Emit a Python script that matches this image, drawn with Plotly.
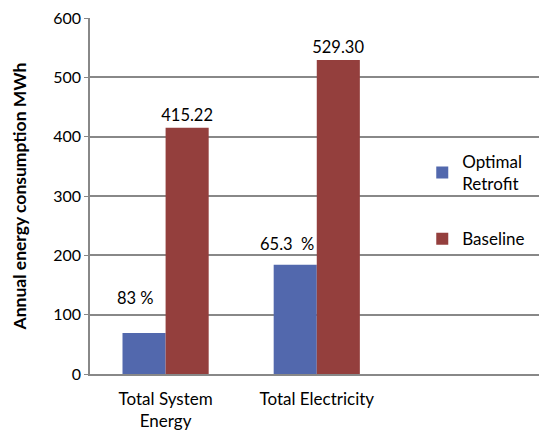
import plotly.graph_objects as go

categories = ["Total System<br>Energy", "Total Electricity"]
optimal = [69, 184]
baseline = [415.22, 529.30]
baseline_labels = ["415.22", "529.30"]
pct_labels = ["83 %", "65.3  %"]
pct_label_y = [128, 219]
y_ticks = [0, 100, 200, 300, 400, 500, 600]

x = list(range(len(categories)))
FONT = "Lato, Liberation Sans, sans-serif"

fig = go.Figure()
fig.add_trace(go.Bar(x=x, y=optimal, name="Optimal<br>Retrofit", legendgroup="a",
                     marker=dict(color="#5268AD", line=dict(width=0))))
fig.add_trace(go.Bar(x=x, y=baseline, name="Baseline", legendgroup="b",
                     marker=dict(color="#943F3D", line=dict(width=0)),
                     text=baseline_labels, textposition="outside", constraintext="none",
                     textfont=dict(size=16.5, color="#000000"), cliponaxis=False))

for i, (lab, yy) in enumerate(zip(pct_labels, pct_label_y)):
    fig.add_annotation(x=i - 0.2, y=yy, text=lab, showarrow=False,
                       font=dict(size=16.5, color="#000000"))

fig.update_layout(
    width=539, height=431,
    margin=dict(l=90, r=0, t=18, b=57),
    paper_bgcolor="white", plot_bgcolor="white",
    font=dict(family=FONT, size=17, color="#000000"),
    barmode="group", bargap=0.43, bargroupgap=0,
    showlegend=True,
    legend=dict(x=0.74, y=0.646, xanchor="left", yanchor="top",
                font=dict(size=17), tracegroupgap=30,
                bgcolor="rgba(0,0,0,0)", itemwidth=30),
    xaxis=dict(range=[-0.5, 2.47], tickmode="array", tickvals=x, ticktext=categories,
               showgrid=False, zeroline=False, showline=True, linecolor="#888888",
               linewidth=1.5, ticks="", tickfont=dict(size=17), ticklabelstandoff=9),
    yaxis=dict(range=[0, 600], tickvals=y_ticks, showgrid=True, gridcolor="#888888",
               gridwidth=1.5, zeroline=False, showline=True, linecolor="#888888",
               linewidth=1.5, ticks="outside", ticklen=4, tickcolor="#888888",
               tickfont=dict(size=16),
               title=dict(text="<b>Annual energy consumption MWh</b>", font=dict(size=17.5),
                          standoff=22)),
)
fig.write_html("out.html")
